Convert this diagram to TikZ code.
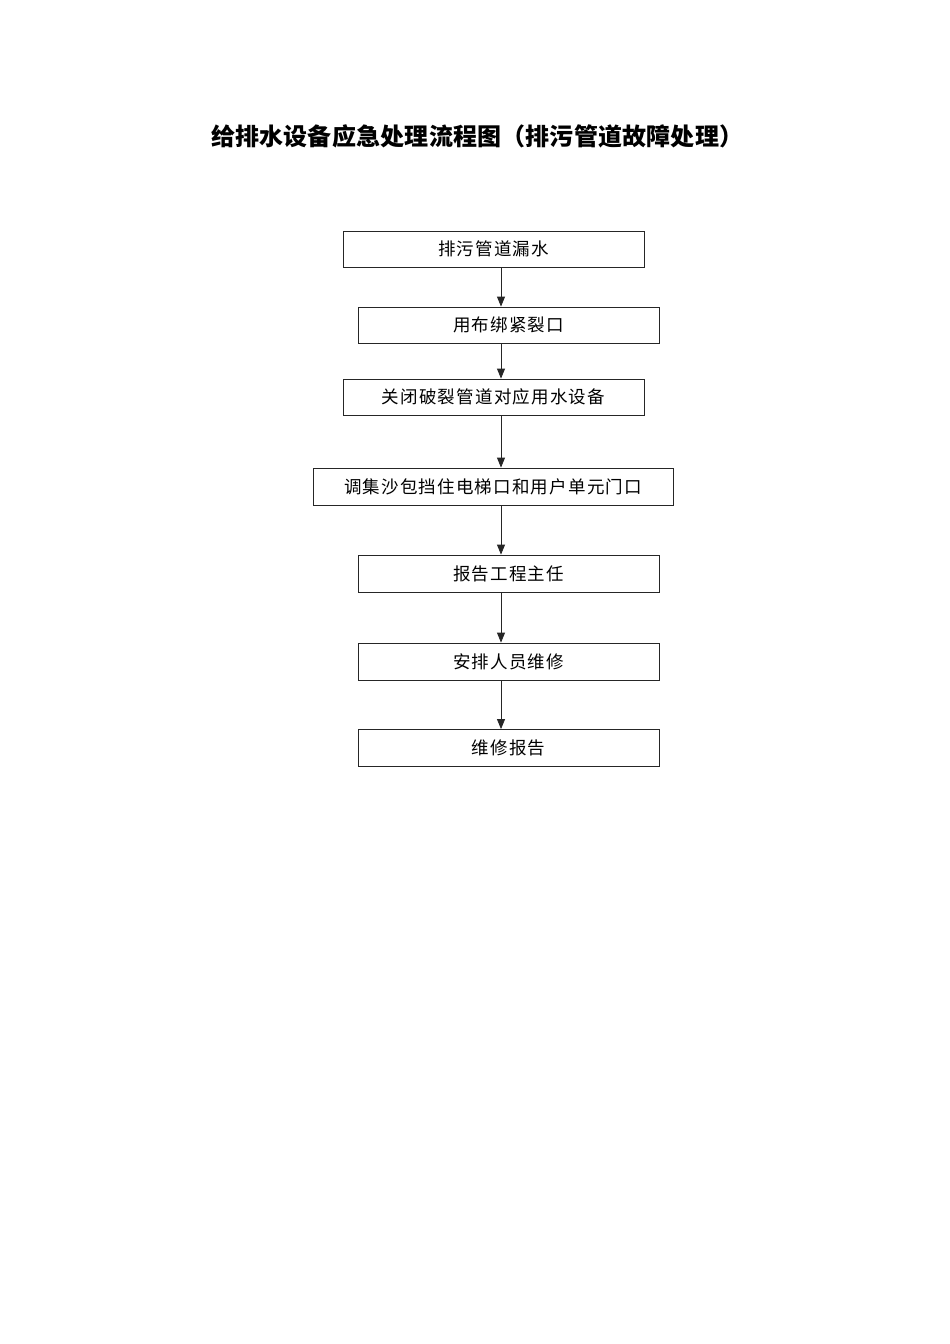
\documentclass[tikz,border=0pt]{standalone}
\usepackage{fontspec}
\setmainfont{Noto Sans CJK SC}
\newfontfamily\cjk{Noto Sans CJK SC}
\usetikzlibrary{arrows.meta}
\makeatletter
\newcommand\spacedtext[2]{\def\sp@first{1}\@tfor\sp@c:=#2\do{\ifx\sp@first\empty\kern#1\fi\def\sp@first{}\sp@c}}
\makeatother
\tikzset{
  flowbox/.style={draw=black!85, line width=0.8pt, minimum height=36pt, inner sep=0pt,
    font=\cjk\fontsize{17.5}{20}\selectfont, text=black},
  flowarrow/.style={draw=black!85, line width=0.8pt, -{Triangle[length=10pt,width=8pt]}},
  titlestyle/.style={font=\cjk\bfseries\fontsize{24}{28}\selectfont, inner sep=0pt, anchor=west}
}
\begin{document}
\begin{tikzpicture}[x=1pt,y=-1pt]
\useasboundingbox (0,0) rectangle (950,1344);
\node[titlestyle] (title) at (211,136) {\spacedtext{0.2pt}{给排水设备应急处理流程图（排污管道故障处理）}};
\node[flowbox, minimum width=301pt] (b1) at (493.5,249) {\spacedtext{1.2pt}{排污管道漏水}};
\node[flowbox, minimum width=301pt] (b2) at (508.5,325) {\spacedtext{1.2pt}{用布绑紧裂口}};
\node[flowbox, minimum width=301pt] (b3) at (493.5,397) {\spacedtext{1.2pt}{关闭破裂管道对应用水设备}};
\node[flowbox, minimum width=360pt, minimum height=37pt] (b4) at (493,486.5) {\spacedtext{1.2pt}{调集沙包挡住电梯口和用户单元门口}};
\node[flowbox, minimum width=301pt, minimum height=37pt] (b5) at (508.5,573.5) {\spacedtext{1.2pt}{报告工程主任}};
\node[flowbox, minimum width=301pt, minimum height=37pt] (b6) at (508.5,661.5) {\spacedtext{1.2pt}{安排人员维修}};
\node[flowbox, minimum width=301pt, minimum height=37pt] (b7) at (508.5,748) {\spacedtext{1.2pt}{维修报告}};
\coordinate (ax) at (501,0);
\draw[flowarrow] (b1.south -| ax) -- (b2.north -| ax);
\draw[flowarrow] (b2.south -| ax) -- (b3.north -| ax);
\draw[flowarrow] (b3.south -| ax) -- (b4.north -| ax);
\draw[flowarrow] (b4.south -| ax) -- (b5.north -| ax);
\draw[flowarrow] (b5.south -| ax) -- (b6.north -| ax);
\draw[flowarrow] (b6.south -| ax) -- (b7.north -| ax);
\end{tikzpicture}
\end{document}
